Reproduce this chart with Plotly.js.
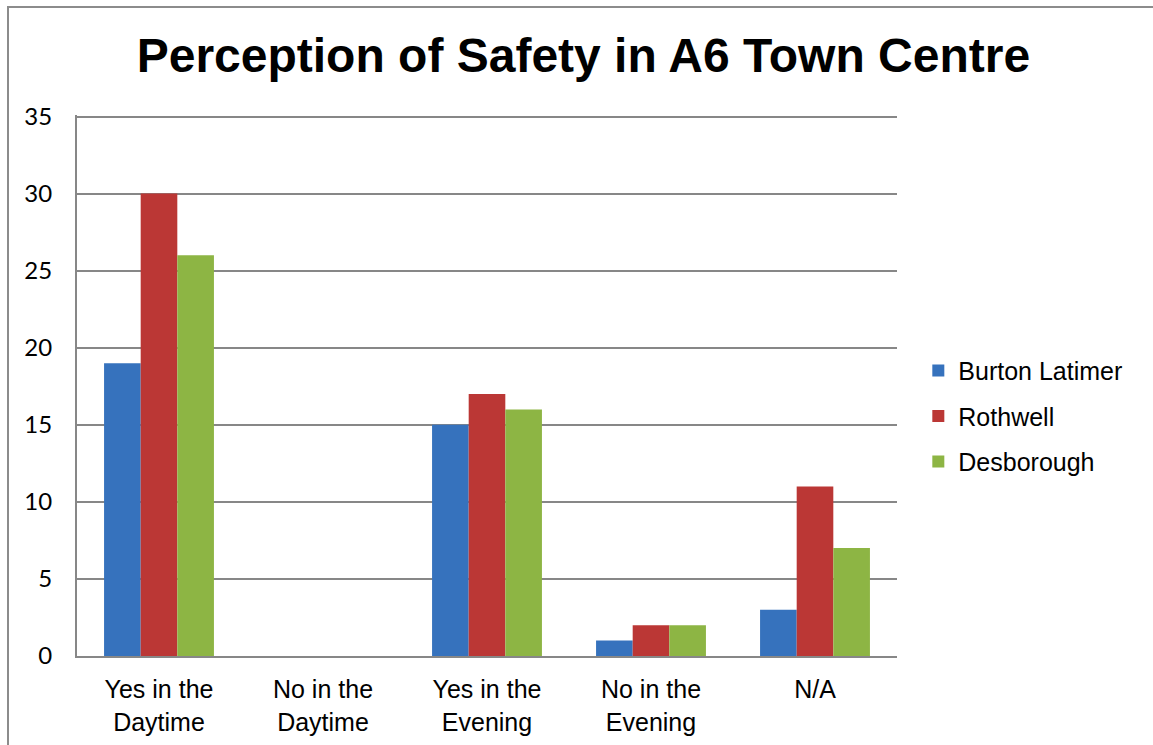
<!DOCTYPE html>
<html>
<head>
<meta charset="utf-8">
<script src="https://cdn.plot.ly/plotly-3.0.1.min.js"></script>
<style>
html,body{margin:0;padding:0;background:#fff;}
#wrap{position:relative;width:1153px;height:745px;}
#chart{position:absolute;left:0;top:0;width:1153px;height:745px;}
#frame{position:absolute;left:7px;top:6px;right:0;bottom:0;border-left:2px solid #8c8c8c;border-top:2px solid #8c8c8c;pointer-events:none;}
</style>
</head>
<body>
<div id="wrap"><div id="chart"></div><div id="frame"></div></div>
<script>
const categories = ["Yes in the<br>Daytime", "No in the<br>Daytime", "Yes in the<br>Evening", "No in the<br>Evening", "N/A"];
const seriesNames = ["Burton Latimer", "Rothwell", "Desborough"];
const burtonLatimer = [19, 0, 15, 1, 3];
const rothwell = [30, 0, 17, 2, 11];
const desborough = [26, 0, 16, 2, 7];
const yTicks = [0, 5, 10, 15, 20, 25, 30, 35];
const colors = ["#3672bd", "#bb3735", "#8db544"];
const values = [burtonLatimer, rothwell, desborough];

const traces = values.map((v, i) => ({
  type: "bar",
  name: seriesNames[i],
  x: categories,
  y: v,
  marker: {color: colors[i]},
  legendgroup: "g" + i,
  hoverinfo: "x+y+name"
}));

const layout = {
  width: 1153,
  height: 745,
  margin: {l: 77, r: 256, t: 115, b: 89},
  paper_bgcolor: "#ffffff",
  plot_bgcolor: "#ffffff",
  barmode: "group",
  bargap: 0.33,
  bargroupgap: 0,
  title: {
    text: "<b>Perception of Safety in A6 Town Centre</b>",
    font: {family: "Liberation Sans, Arial, sans-serif", size: 48, color: "#000"},
    x: 0.506, xanchor: "center",
    y: 0.926, yanchor: "middle"
  },
  xaxis: {
    showline: true, linecolor: "#878787", linewidth: 2,
    tickfont: {family: "Liberation Sans, Arial, sans-serif", size: 25, color: "#000"},
    ticks: "", ticklabelstandoff: 10,
    showgrid: false, zeroline: false
  },
  yaxis: {
    range: [0, 35.1], tickvals: yTicks,
    showline: true, linecolor: "#878787", linewidth: 2,
    showgrid: true, gridcolor: "#878787", gridwidth: 2,
    zeroline: false,
    ticks: "", ticklabelstandoff: 18,
    tickfont: {family: "Lato, Carlito, sans-serif", size: 24, color: "#000"}
  },
  legend: {
    x: 1.026, xanchor: "left",
    y: 0.57, yanchor: "top",
    font: {family: "Liberation Sans, Arial, sans-serif", size: 25, color: "#000"},
    traceorder: "grouped",
    tracegroupgap: 10,
    itemwidth: 30,
    bgcolor: "rgba(0,0,0,0)"
  },
  showlegend: true
};

Plotly.newPlot("chart", traces, layout, {displayModeBar: false, staticPlot: true});
</script>
</body>
</html>
